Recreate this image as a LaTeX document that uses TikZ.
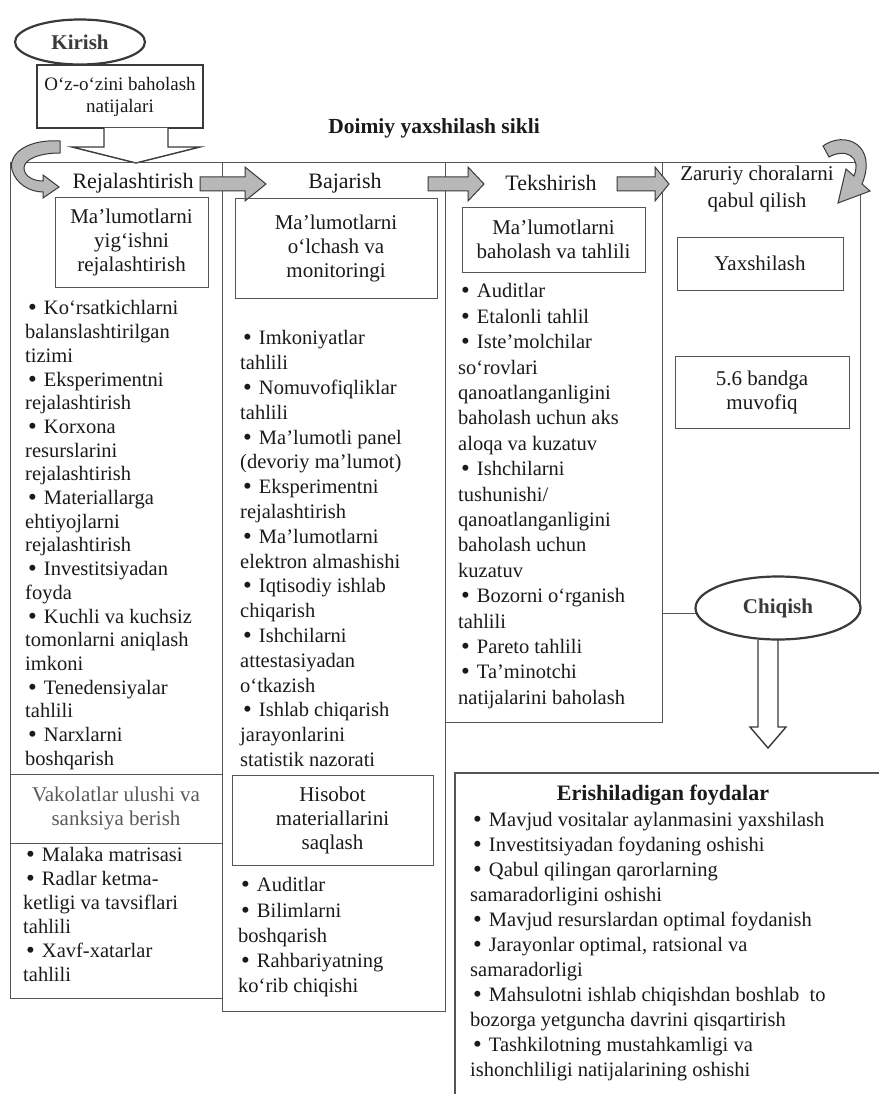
\documentclass[tikz,border=0pt]{standalone}
\usepackage{fontspec}
\setmainfont{Liberation Serif}
\usetikzlibrary{positioning, calc, shapes.geometric}
\definecolor{mframe}{HTML}{555555}
\definecolor{mdark}{HTML}{3A3A3A}
\definecolor{mtext}{HTML}{1A1A1A}
\definecolor{msoft}{HTML}{5A5A5A}
\definecolor{mfill}{HTML}{B8B8B8}
\newcommand{\bul}{\hspace*{3pt}\raisebox{-1pt}{\fontsize{25}{25}\selectfont\textbullet}\hspace{7pt}}
\tikzset{
  frame/.style={draw=mframe, line width=0.9pt},
  titlebox/.style={draw=mframe, line width=1pt, align=center, inner sep=0pt,
                   font=\fontsize{21}{24}\selectfont, text=mtext},
  bodytext/.style={align=left, anchor=north west, inner sep=0pt, text=mtext,
                   font=\fontsize{20.5}{#1}\selectfont},
  headlabel/.style={font=\fontsize{22}{27}\selectfont, text=mtext, align=center, inner sep=0pt},
  endpoint/.style={ellipse, draw=mdark, line width=2.2pt, fill=white, inner sep=0pt,
                   font=\fontsize{21}{24}\selectfont\bfseries, text=mdark},
  grayarrow/.style={draw=mdark, line width=1pt, fill=mfill},
  hollowarrow/.style={draw=mdark, line width=1.4pt, fill=white},
}

\begin{document}
\begin{tikzpicture}[x=1pt, y=-1pt]

  \useasboundingbox (0,0) rectangle (878,1094);
  \fill[white] (0,0) rectangle (878,1094);

  %% ── Input ──
  \node[endpoint, minimum width=130, minimum height=45] (kirish) at (80,42) {Kirish};
  \node[titlebox, draw=mdark, line width=1.6pt, minimum width=166, minimum height=63,
        font=\fontsize{19}{22}\selectfont] (selfres) at (120,96.5)
    {O‘z-o‘zini baholash\\natijalari};
  \coordinate (cyclein) at (136,163);
  \draw[hollowarrow] (104,128) -- (104,147) -- (72,147) -- (cyclein)
    -- (200,147) -- (168,147) -- (168,128);

  \node[font=\fontsize{21.5}{24}\selectfont\bfseries, text=mtext] (title) at (434,128)
    {Doimiy yaxshilash sikli};

  %% ── Column frames ──
  \draw[frame] (10,162) rectangle (222,774);
  \draw[frame] (10,843) rectangle (222,998);
  \draw[frame] (222,162) rectangle (445,1011);
  \draw[frame] (445,162) rectangle (662,722);
  \draw[frame] (662,162) rectangle (860,613);

  %% ── Cycle arrows ──
  \draw[grayarrow] (60,141) .. controls (30,139) and (8,152) .. (12,170)
    .. controls (16,184) and (30,192) .. (43,192) -- (43,198) -- (59,187)
    -- (43,175) -- (43,181) .. controls (33,181) and (24,176) .. (24,168)
    .. controls (24,159) and (40,153) .. (60,153) -- cycle;
  \draw[grayarrow] (823,146) .. controls (845,130) and (878,145) .. (862,184)
    -- (870,191) -- (838,203) -- (846,169) -- (854,176)
    .. controls (862,156) and (845,148) .. (829,157) -- cycle;

  %% ── Step headers ──
  \node[headlabel] (plan) at (133,183) {Rejalashtirish};
  \node[headlabel] (do) at (345,183) {Bajarish};
  \node[headlabel] (check) at (551,183) {Tekshirish};
  \node[headlabel, font=\fontsize{21}{27}\selectfont] (act) at (757,189)
    {Zaruriy choralarni\\qabul qilish};

  \foreach \tail/\neck/\tip in {200/245/266, 428/468/484, 617/655/669}{
    \draw[grayarrow] (\tail,177) -- (\neck,177) -- (\neck,167) -- (\tip,184)
      -- (\neck,201) -- (\neck,191) -- (\tail,191) -- cycle;
  }

  %% ── Column boxes ──
  \node[titlebox, minimum width=153, minimum height=90] (collect) at (131.5,242)
    {Ma’lumotlarni\\yig‘ishni\\rejalashtirish};
  \node[titlebox, minimum width=202, minimum height=100] (measure) at (336,248)
    {Ma’lumotlarni\\o‘lchash va\\monitoringi};
  \node[titlebox, minimum width=183, minimum height=65] (assess) at (553.5,239.5)
    {Ma’lumotlarni\\baholash va tahlili};
  \node[titlebox, minimum width=166, minimum height=53] (improve) at (760,263.5)
    {Yaxshilash};
  \node[titlebox, minimum width=174, minimum height=72] (clause) at (762,392)
    {5.6 bandga\\muvofiq};
  \node[titlebox, minimum width=212, minimum height=69, text=msoft] (powers) at (116,808.5)
    {Vakolatlar ulushi va\\sanksiya berish};
  \node[titlebox, minimum width=201, minimum height=90] (report) at (332.5,820)
    {Hisobot\\materiallarini\\saqlash};

  %% ── Column lists ──
  \node[bodytext=23.7] (planlist) at (25,300.5)
    {\bul Ko‘rsatkichlarni\\balanslashtirilgan\\tizimi\\
     \bul Eksperimentni\\rejalashtirish\\
     \bul Korxona\\resurslarini\\rejalashtirish\\
     \bul Materiallarga\\ehtiyojlarni\\rejalashtirish\\
     \bul Investitsiyadan\\foyda\\
     \bul Kuchli va kuchsiz\\tomonlarni aniqlash\\imkoni\\
     \bul Tenedensiyalar\\tahlili\\
     \bul Narxlarni\\boshqarish};
  \node[bodytext=24.8] (dolist) at (240,330.5)
    {\bul Imkoniyatlar\\tahlili\\
     \bul Nomuvofiqliklar\\tahlili\\
     \bul Ma’lumotli panel\\(devoriy ma’lumot)\\
     \bul Eksperimentni\\rejalashtirish\\
     \bul Ma’lumotlarni\\elektron almashishi\\
     \bul Iqtisodiy ishlab\\chiqarish\\
     \bul Ishchilarni\\attestasiyadan\\o‘tkazish\\
     \bul Ishlab chiqarish\\jarayonlarini\\statistik nazorati};
  \node[bodytext=25.4] (checklist) at (458,283.5)
    {\bul Auditlar\\
     \bul Etalonli tahlil\\
     \bul Iste’molchilar\\so‘rovlari\\qanoatlanganligini\\baholash uchun aks\\aloqa va kuzatuv\\
     \bul Ishchilarni\\tushunishi/\\qanoatlanganligini\\baholash uchun\\kuzatuv\\
     \bul Bozorni o‘rganish\\tahlili\\
     \bul Pareto tahlili\\
     \bul Ta’minotchi\\natijalarini baholash};
  \node[bodytext=24] (powerlist) at (23,847.5)
    {\bul Malaka matrisasi\\
     \bul Radlar ketma-\\ketligi va tavsiflari\\tahlili\\
     \bul Xavf-xatarlar\\tahlili};
  \node[bodytext=25.2] (reportlist) at (238,877.5)
    {\bul Auditlar\\
     \bul Bilimlarni\\boshqarish\\
     \bul Rahbariyatning\\ko‘rib chiqishi};

  %% ── Output ──
  \draw[frame] (662,613) -- (700,613);
  \draw[hollowarrow] (758,640) -- (758,727) -- (750,727) -- (768,748)
    -- (786,727) -- (778,727) -- (778,640);
  \node[endpoint, minimum width=165, minimum height=63] (chiqish) at (778,608) {Chiqish};

  \draw[frame, line width=1.2pt] (455,1100) -- (455,773) -- (880,773);
  \node[font=\fontsize{22}{24}\selectfont\bfseries, text=mtext] (benefits) at (663,795)
    {Erishiladigan foydalar};
  \node[bodytext=25] (benefitlist) at (470,812.5)
    {\bul Mavjud vositalar aylanmasini yaxshilash\\
     \bul Investitsiyadan foydaning oshishi\\
     \bul Qabul qilingan qarorlarning\\samaradorligini oshishi\\
     \bul Mavjud resurslardan optimal foydanish\\
     \bul Jarayonlar optimal, ratsional va\\samaradorligi\\
     \bul Mahsulotni ishlab chiqishdan boshlab \ to\\bozorga yetguncha davrini qisqartirish\\
     \bul Tashkilotning mustahkamligi va\\ishonchliligi natijalarining oshishi};

\end{tikzpicture}
\end{document}
